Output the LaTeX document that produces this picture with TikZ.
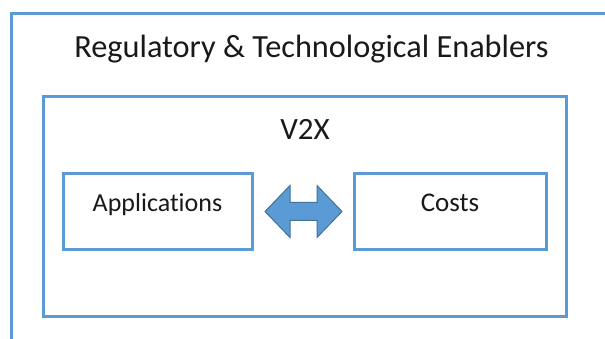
\documentclass[tikz,border=0pt]{standalone}
\usepackage{fontspec}
\setmainfont[Ligatures=NoCommon]{Carlito}
\definecolor{boxblue}{HTML}{5B9BD5}
\definecolor{arrowedge}{HTML}{41719C}
\begin{document}
\begin{tikzpicture}[x=1pt,y=-1pt,
  frame/.style={draw=boxblue,line width=3pt},
  lbl/.style={text={black!90},inner sep=0pt,anchor=base}]
\useasboundingbox (0,0) rectangle (605,339);
\fill[white] (0,0) rectangle (605,339);
% outer frame (extends past the page on the right and bottom)
\draw[frame] (11.5,345) -- (11.5,13.5) -- (615,13.5);
\node[lbl,font=\fontsize{32.3}{38}\selectfont] (title) at (311.5,58) {Regulatory \& Technological Enablers};
% V2X box
\draw[frame] (43.5,96.5) rectangle (566.5,316.5);
\node[lbl,font=\fontsize{31}{36}\selectfont] (v2x) at (305,140) {V2X};
% inner boxes
\node[frame,minimum width=189pt,minimum height=76pt,inner sep=0pt] (app) at (158,211.5) {};
\node[frame,minimum width=192pt,minimum height=76pt,inner sep=0pt] (cost) at (450.5,211.5) {};
\node[lbl,font=\fontsize{26}{30}\selectfont] (applbl) at (157.5,212) {Applications};
\node[lbl,font=\fontsize{27}{32}\selectfont] (costlbl) at (450,212) {Costs};
% double arrow between the two boxes
\coordinate (al) at ([xshift=11pt]app.east);
\coordinate (ar) at ([xshift=-11pt]cost.west);
\draw[arrowedge,fill=boxblue,line width=1pt,line join=miter]
  (al) -- ([xshift=25pt,yshift=-26pt]al) -- ([xshift=25pt,yshift=-9pt]al)
  -- ([xshift=-25pt,yshift=-9pt]ar) -- ([xshift=-25pt,yshift=-26pt]ar)
  -- (ar) -- ([xshift=-25pt,yshift=26pt]ar) -- ([xshift=-25pt,yshift=9pt]ar)
  -- ([xshift=25pt,yshift=9pt]al) -- ([xshift=25pt,yshift=26pt]al) -- cycle;
\end{tikzpicture}
\end{document}
